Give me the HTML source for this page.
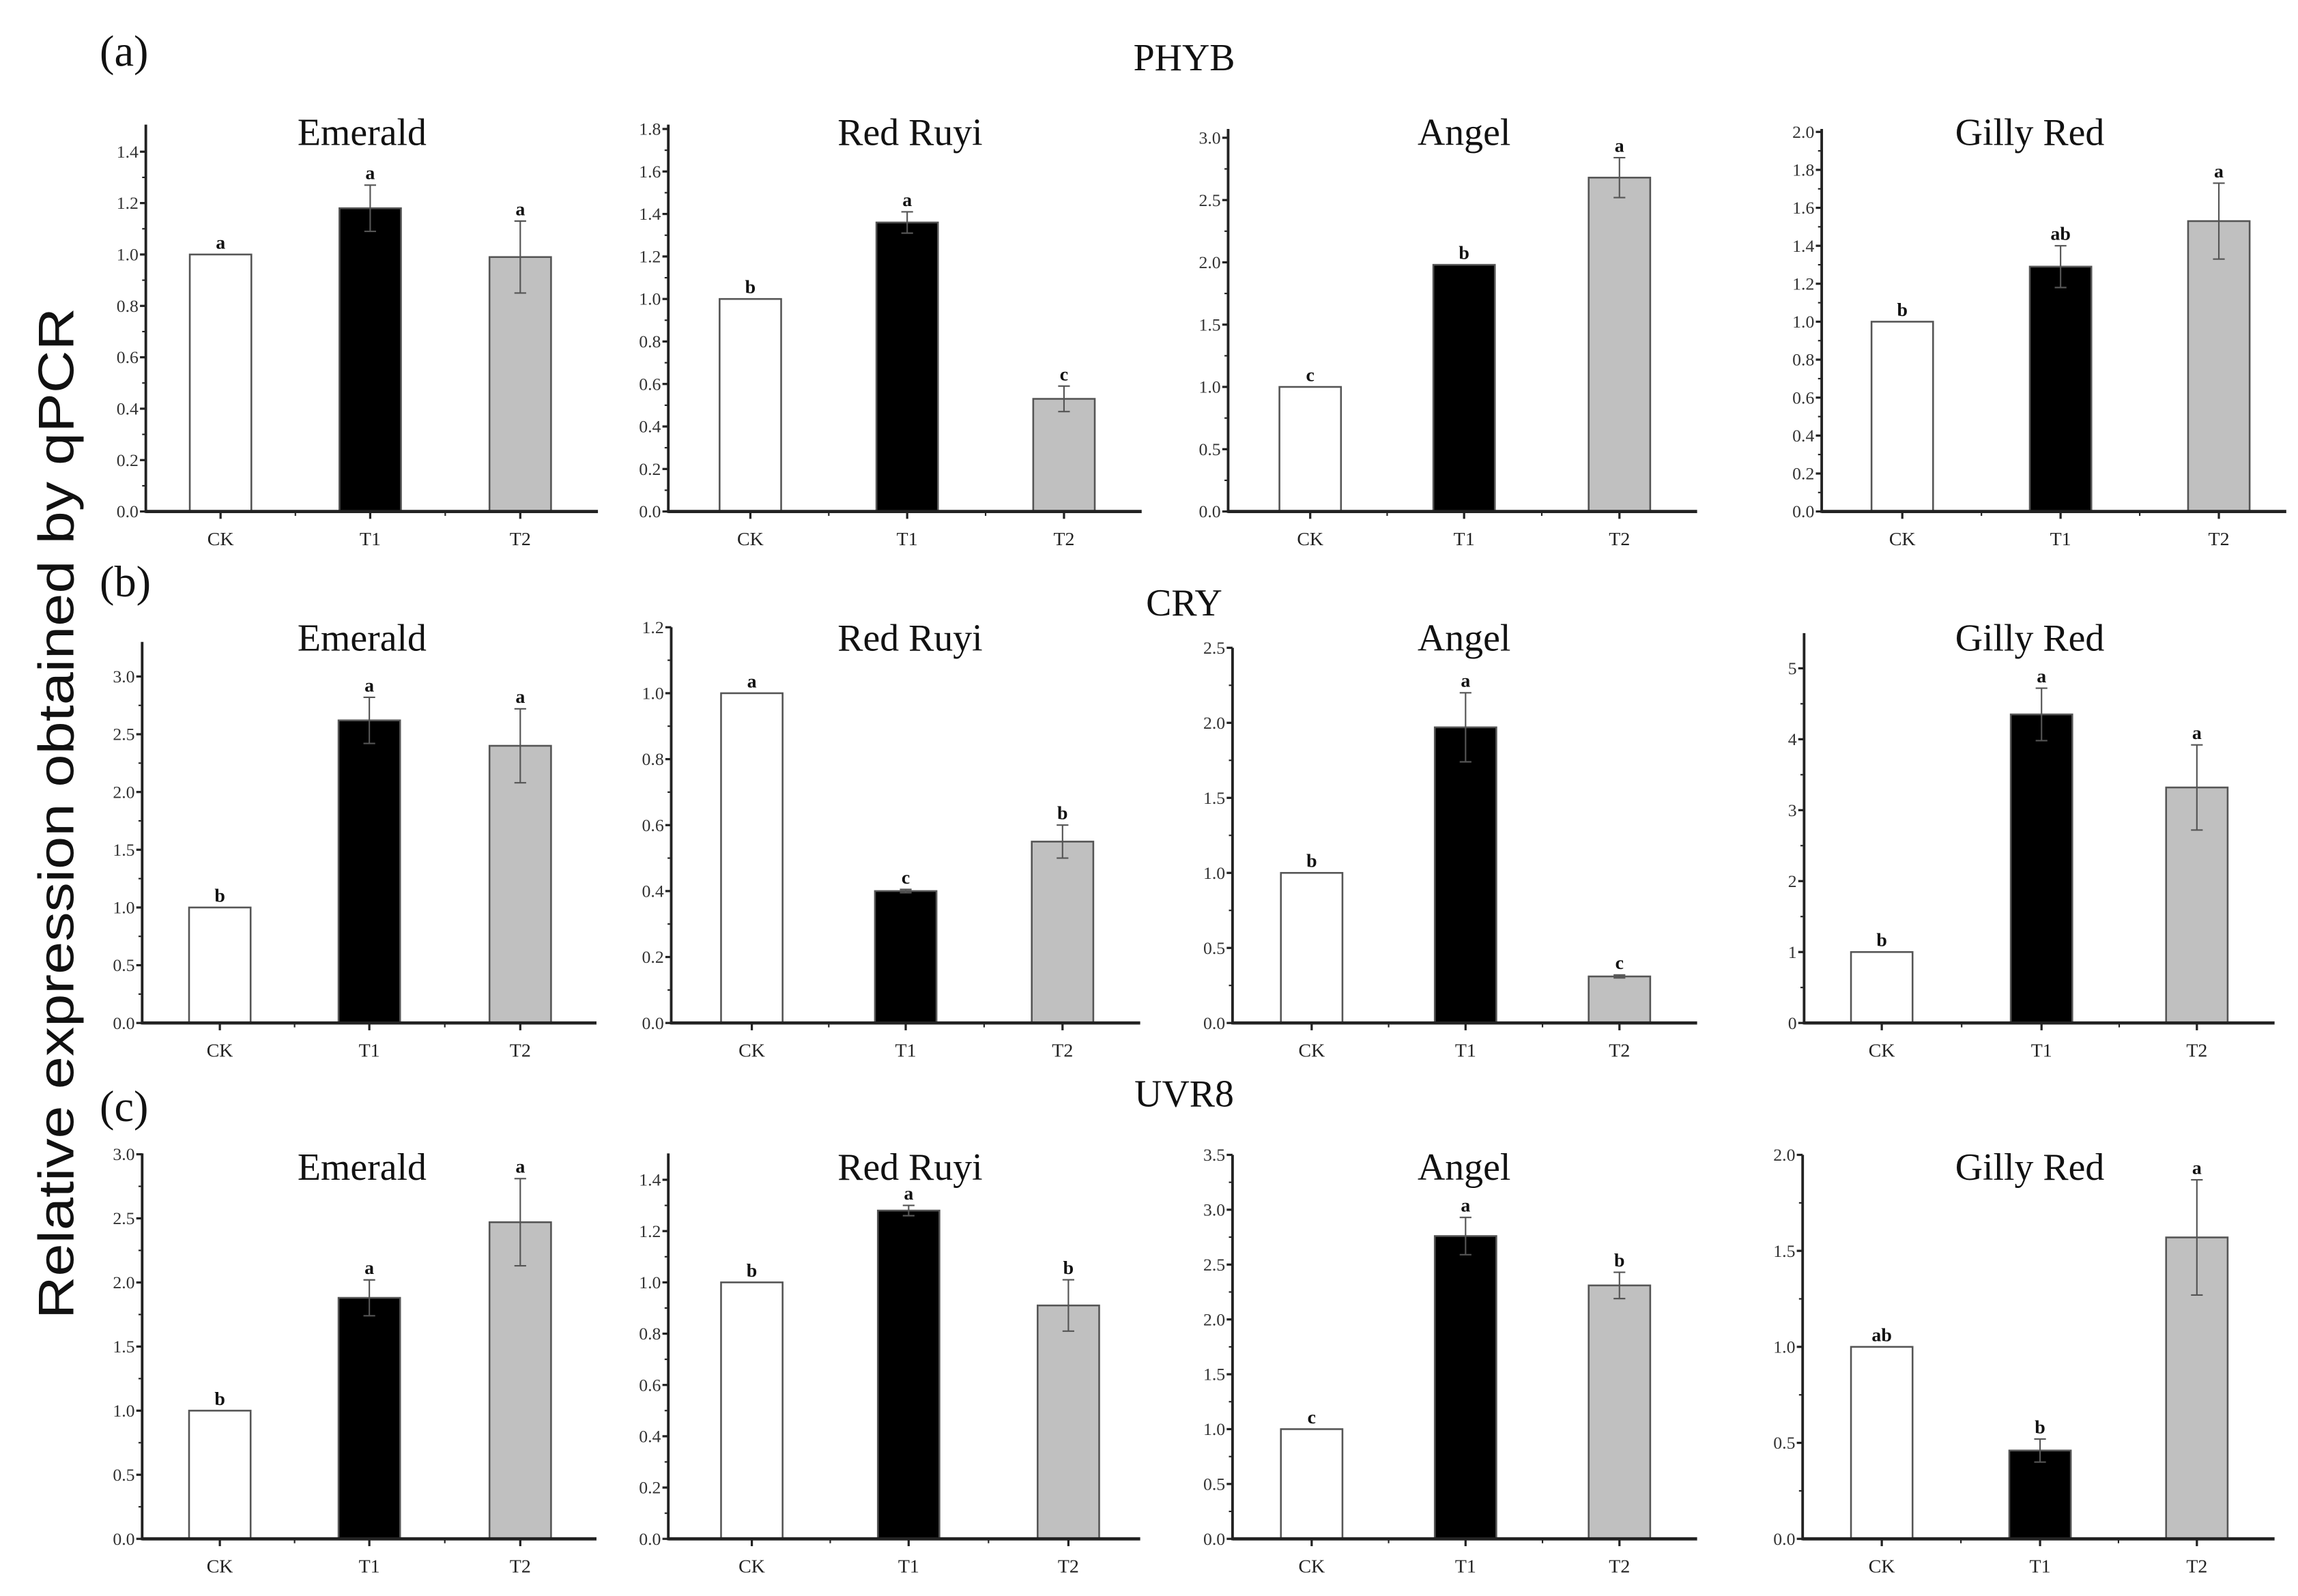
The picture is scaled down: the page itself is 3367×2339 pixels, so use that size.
<!DOCTYPE html>
<html><head><meta charset="utf-8"><style>
html,body{margin:0;padding:0;background:#fff;}
svg{display:block;}
</style></head><body>
<svg id="chart" xmlns="http://www.w3.org/2000/svg" width="3367" height="2339" viewBox="0 0 1568 1089" preserveAspectRatio="none"></svg>
<script>
const categories = ["CK", "T1", "T2"];
const cultivars = ["Emerald", "Red Ruyi", "Angel", "Gilly Red"];
const genes = ["PHYB", "CRY", "UVR8"];
const panelLetters = ["(a)", "(b)", "(c)"];

const phybMeans = [[1.0, 1.18, 0.99], [1.0, 1.36, 0.53], [1.0, 1.98, 2.68], [1.0, 1.29, 1.53]];
const phybErrors = [[0, 0.09, 0.14], [0, 0.05, 0.06], [0, 0, 0.16], [0, 0.11, 0.2]];
const phybLetters = [["a", "a", "a"], ["b", "a", "c"], ["c", "b", "a"], ["b", "ab", "a"]];

const cryMeans = [[1.0, 2.62, 2.40], [1.0, 0.40, 0.55], [1.0, 1.97, 0.31], [1.0, 4.35, 3.32]];
const cryErrors = [[0, 0.2, 0.32], [0, 0.005, 0.05], [0, 0.23, 0.01], [0, 0.37, 0.6]];
const cryLetters = [["b", "a", "a"], ["a", "c", "b"], ["b", "a", "c"], ["b", "a", "a"]];

const uvr8Means = [[1.0, 1.88, 2.47], [1.0, 1.28, 0.91], [1.0, 2.76, 2.31], [1.0, 0.46, 1.57]];
const uvr8Errors = [[0, 0.14, 0.34], [0, 0.02, 0.1], [0, 0.17, 0.12], [0, 0.06, 0.3]];
const uvr8Letters = [["b", "a", "a"], ["b", "a", "b"], ["c", "a", "b"], ["ab", "b", "a"]];

const tickMaxes = [[1.4, 1.8, 3.0, 2.0], [3.0, 1.2, 2.5, 5], [3.0, 1.4, 3.5, 2.0]];
const tickSteps = [[0.2, 0.2, 0.5, 0.2], [0.5, 0.2, 0.5, 1], [0.5, 0.2, 0.5, 0.5]];
const tickDecimals = [[1, 1, 1, 1], [1, 1, 1, 0], [1, 1, 1, 1]];

// layout (pixels, not data)
const rowZero = [349, 698, 1050];
const rowTitleY = [99, 444, 805];
const rowGeneY = [48, 420, 755];
const rowLetterY = [45, 407, 765];
const rowLabelY = [372, 721, 1073];
const tickTopPx = [[103.5, 88, 94, 90], [461.6, 428, 442, 456], [787.6, 805, 788, 788]];
const axisTopPx = [[85, 85, 88, 88], [438, 428, 442, 432], [787, 787, 788, 788]];
const axisXs = [[99.5, 456, 838, 1243], [97, 458, 841, 1231], [97, 456, 841, 1230]];
const axisEnds = [[408, 779, 1158, 1560], [407, 778, 1158, 1552], [407, 778, 1158, 1552]];
const catCenters = [
  [[150.5, 252.6, 355], [512, 619, 726], [894, 999, 1105], [1298, 1406, 1514]],
  [[150, 252, 355], [513, 618, 725], [895, 1000, 1105], [1284, 1393, 1499]],
  [[150, 252, 355], [513, 620, 729], [895, 1000, 1105], [1284, 1392, 1499]]
];
const titleXs = [247, 621, 999, 1385];
const barFills = ["#ffffff", "#000000", "#c0c0c0"];
const BW = 42;

const allMeans = [phybMeans, cryMeans, uvr8Means];
const allErrors = [phybErrors, cryErrors, uvr8Errors];
const allLetters = [phybLetters, cryLetters, uvr8Letters];

const NS = "http://www.w3.org/2000/svg";
const svg = document.getElementById("chart");
function mk(tag, attrs, parent, text) {
  const e = document.createElementNS(NS, tag);
  for (const k in attrs) e.setAttribute(k, attrs[k]);
  if (text !== undefined) e.textContent = text;
  (parent || svg).appendChild(e);
  return e;
}
const SERIF = '"Liberation Serif", serif';

const ylab = mk("text", {x: 0, y: 0, transform: "translate(50,555) rotate(-90)", "text-anchor": "middle", "font-family": '"Liberation Sans", sans-serif', "font-size": 34, fill: "#111", textLength: 690, lengthAdjust: "spacingAndGlyphs"}, svg, "Relative expression obtained by qPCR");



for (let r = 0; r < 3; r++) {
  const lt = mk("text", {x: 68, y: rowLetterY[r], "font-family": SERIF, "font-size": 30, fill: "#111"}, svg, panelLetters[r]);
  
  
  const gt = mk("text", {x: 808, y: rowGeneY[r], "text-anchor": "middle", "font-family": SERIF, "font-size": 26, fill: "#111"}, svg, genes[r]);
  
  

  for (let c = 0; c < 4; c++) {
    const g = mk("g", {});
    
    
    const x0 = axisXs[r][c], y0 = rowZero[r];
    const tmax = tickMaxes[r][c], step = tickSteps[r][c];
    const pxPer = (y0 - tickTopPx[r][c]) / tmax;
    const yS = v => y0 - v * pxPer;

    const t = mk("text", {x: titleXs[c], y: rowTitleY[r], "text-anchor": "middle", "font-family": SERIF, "font-size": 26, fill: "#111"}, g, cultivars[c]);
    
    

    const means = allMeans[r][c], errs = allErrors[r][c], lets = allLetters[r][c];
    for (let i = 0; i < 3; i++) {
      const cx = catCenters[r][c][i];
      const yt = yS(means[i]);
      const b = mk("rect", {x: cx - BW / 2, y: yt, width: BW, height: y0 - yt, fill: barFills[i], stroke: "#555", "stroke-width": 1.2}, g);
      
      
      const hi = yS(means[i] + errs[i]), lo = yS(means[i] - errs[i]);
      if (errs[i] > 0) {
        const eb = mk("path", {d: `M${cx},${hi}V${lo}M${cx - 4},${hi}H${cx + 4}M${cx - 4},${lo}H${cx + 4}`, stroke: "#555", "stroke-width": 1, fill: "none"}, g);
        
        
      }
      const sl = mk("text", {x: cx, y: hi - 4, "text-anchor": "middle", "font-family": SERIF, "font-size": 13, "font-weight": "bold", fill: "#111"}, g, lets[i]);
      
      
      const xl = mk("text", {x: cx, y: rowLabelY[r], "text-anchor": "middle", "font-family": SERIF, "font-size": 13, fill: "#222"}, g, categories[i]);
      
      
      mk("line", {x1: cx, x2: cx, y1: y0, y2: y0 + 5, stroke: "#222", "stroke-width": 1.5}, g);
      if (i < 2) {
        const mx = (cx + catCenters[r][c][i + 1]) / 2;
        mk("line", {x1: mx, x2: mx, y1: y0, y2: y0 + 3, stroke: "#222", "stroke-width": 1}, g);
      }
    }
    // axes
    const ya = mk("line", {x1: x0, x2: x0, y1: axisTopPx[r][c], y2: y0 + 1, stroke: "#222", "stroke-width": 1.8}, g);
    
    
    const xa = mk("line", {x1: x0, x2: axisEnds[r][c], y1: y0, y2: y0, stroke: "#222", "stroke-width": 2.2}, g);
    
    
    const n = Math.round(tmax / step);
    for (let k = 0; k <= n; k++) {
      const v = k * step, yy = yS(v);
      mk("line", {x1: x0 - 4, x2: x0, y1: yy, y2: yy, stroke: "#222", "stroke-width": 1.5}, g);
      if (k < n) { const ym = yS(v + step / 2); mk("line", {x1: x0 - 2.5, x2: x0, y1: ym, y2: ym, stroke: "#222", "stroke-width": 1}, g); }
      const tl = mk("text", {x: x0 - 5, y: yy + 4, "text-anchor": "end", "font-family": SERIF, "font-size": 12, fill: "#333"}, g, v.toFixed(tickDecimals[r][c]));
      
      
    }
  }
}
</script>
</body></html>
